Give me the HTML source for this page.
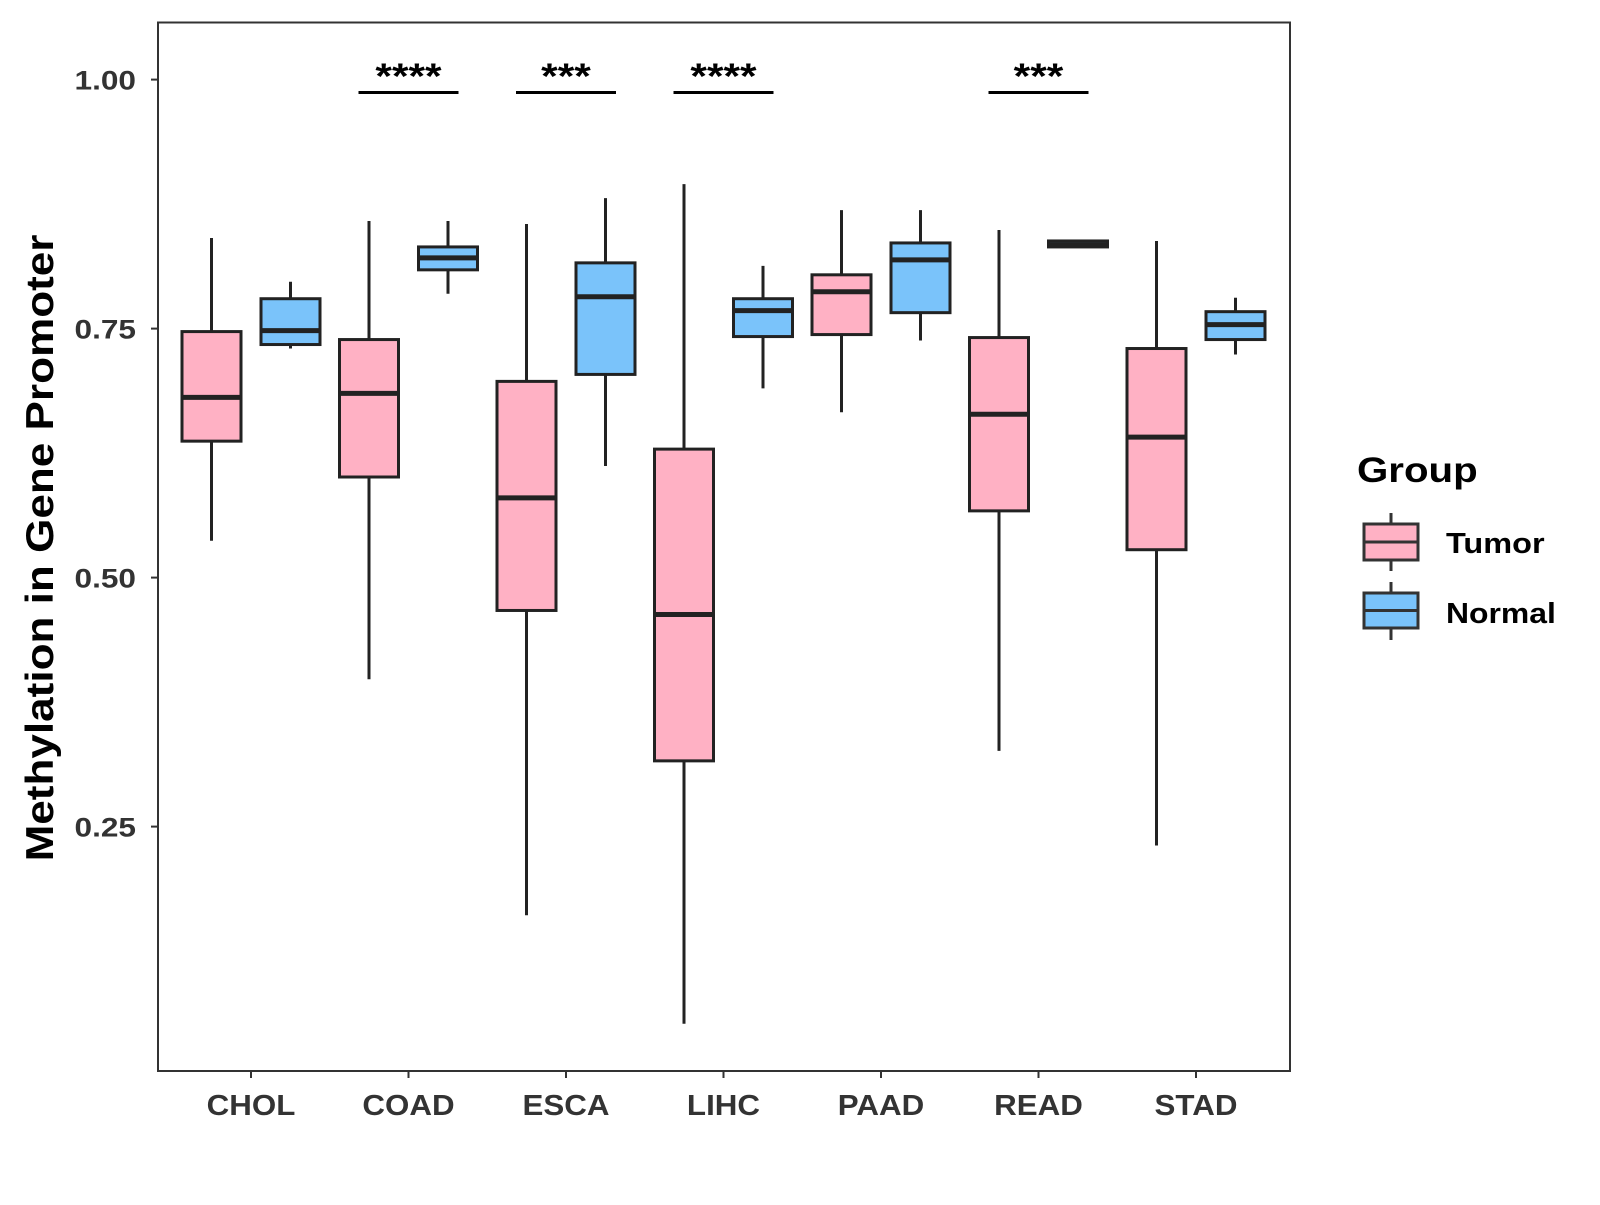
<!DOCTYPE html>
<html><head><meta charset="utf-8"><style>
body{margin:0;background:#fff}
text{font-family:"Liberation Sans",Arial,sans-serif;font-weight:bold}
</style></head><body>
<svg id="chart" width="1600" height="1200" xmlns="http://www.w3.org/2000/svg">
<rect x="0" y="0" width="1600" height="1200" fill="#fff"/>
<g id="plot"></g>
<rect x="158" y="22.5" width="1132" height="1048.5" fill="none" stroke="#333" stroke-width="2"/>
<text data-r="1.13" transform="translate(53,548) rotate(-90)" text-anchor="middle" font-size="39" fill="#000">Methylation in Gene Promoter</text>
<g>
<text data-r="1.15" x="1357" y="482" font-size="35" fill="#000">Group</text>
<g>
<line x1="1391" y1="513" x2="1391" y2="571" stroke="#333" stroke-width="3"/>
<rect x="1364" y="524" width="54" height="36" fill="#FFB1C4" stroke="#333" stroke-width="3"/>
<line x1="1364" y1="542" x2="1418" y2="542" stroke="#333" stroke-width="3"/>
<text data-r="1.12" x="1446" y="553" font-size="29" fill="#000">Tumor</text>
</g>
<g>
<line x1="1391" y1="582" x2="1391" y2="640" stroke="#333" stroke-width="3"/>
<rect x="1364" y="593" width="54" height="35" fill="#7AC3FA" stroke="#333" stroke-width="3"/>
<line x1="1364" y1="610.5" x2="1418" y2="610.5" stroke="#333" stroke-width="3"/>
<text data-r="1.1" x="1446" y="623" font-size="29" fill="#000">Normal</text>
</g>
</g>
</svg>
<script>
const categories=["CHOL","COAD","ESCA","LIHC","PAAD","READ","STAD"];
// [low, q1, median, q3, high]
const tumorStats=[[0.537,0.637,0.681,0.747,0.841],[0.398,0.601,0.685,0.739,0.858],[0.161,0.467,0.580,0.697,0.855],[0.052,0.316,0.463,0.629,0.895],[0.666,0.744,0.787,0.804,0.869],[0.326,0.567,0.664,0.741,0.849],[0.231,0.528,0.641,0.730,0.838]];
const normalStats=[[0.730,0.734,0.748,0.780,0.797],[0.785,0.809,0.821,0.832,0.858],[0.612,0.704,0.782,0.816,0.881],[0.690,0.742,0.768,0.780,0.813],[0.738,0.766,0.819,0.836,0.869],[0.831,0.832,0.834,0.838,0.838],[0.724,0.739,0.754,0.767,0.781]];
const yTicks=[0.25,0.50,0.75,1.00];
const yTickLabels=["0.25","0.50","0.75","1.00"];
const sigCategories=["COAD","ESCA","LIHC","READ"];
const sigLabels=["****","***","****","***"];
const sigLevel=0.987;

const NS="http://www.w3.org/2000/svg";
const g=document.getElementById('plot');
function y(v){return 79.6+(1-v)*996;}
function x(i){return 251+i*157.5;}
function mk(t,a,p){const e=document.createElementNS(NS,t);for(const k in a)e.setAttribute(k,a[k]);(p||g).appendChild(e);return e;}
yTicks.forEach((v,i)=>{
  const l=mk('line',{x1:151,x2:158,y1:y(v),y2:y(v),stroke:'#333','stroke-width':2});
  
  
  const t=mk('text',{x:136,y:y(v)+10,'text-anchor':'end','font-size':27,fill:'#333','data-r':1.17});
  t.textContent=yTickLabels[i];
  
  
});
categories.forEach((c,i)=>{
  const l=mk('line',{x1:x(i),x2:x(i),y1:1071,y2:1078,stroke:'#333','stroke-width':2});
  
  
  const t=mk('text',{x:x(i),y:1115,'text-anchor':'middle','font-size':29,fill:'#333','data-r':1.08});
  t.textContent=c;
  
  
});
function box(cx,s,fill,name){
  const gg=mk('g',{});
  
  
  const w=59;
  mk('line',{x1:cx,x2:cx,y1:y(s[4]),y2:y(s[0]),stroke:'#222','stroke-width':3},gg);
  mk('rect',{x:cx-w/2,y:y(s[3]),width:w,height:Math.max(0.5,y(s[1])-y(s[3])),fill:fill,stroke:'#222','stroke-width':3},gg);
  mk('line',{x1:cx-w/2,x2:cx+w/2,y1:y(s[2]),y2:y(s[2]),stroke:'#222','stroke-width':5},gg);
}
categories.forEach((c,i)=>{
  box(x(i)-39.5,tumorStats[i],'#FFB1C4','box-tumor-'+c.toLowerCase());
  box(x(i)+39.5,normalStats[i],'#7AC3FA','box-normal-'+c.toLowerCase());
});
sigCategories.forEach((c,k)=>{
  const i=categories.indexOf(c);
  const l=mk('line',{x1:x(i)-50,x2:x(i)+50,y1:y(sigLevel),y2:y(sigLevel),stroke:'#000','stroke-width':3});
  
  
  const t=mk('text',{x:x(i),y:y(sigLevel)-4,'text-anchor':'middle','font-size':36,fill:'#000','data-r':1.18});
  t.textContent=sigLabels[k];
  
  
});
document.querySelectorAll('text[data-r]').forEach(t=>{
  const r=parseFloat(t.getAttribute('data-r'));
  const w=t.getComputedTextLength();
  if(w>0){t.setAttribute('textLength',(w*r).toFixed(1));t.setAttribute('lengthAdjust','spacingAndGlyphs');}
});
</script>
</body></html>
